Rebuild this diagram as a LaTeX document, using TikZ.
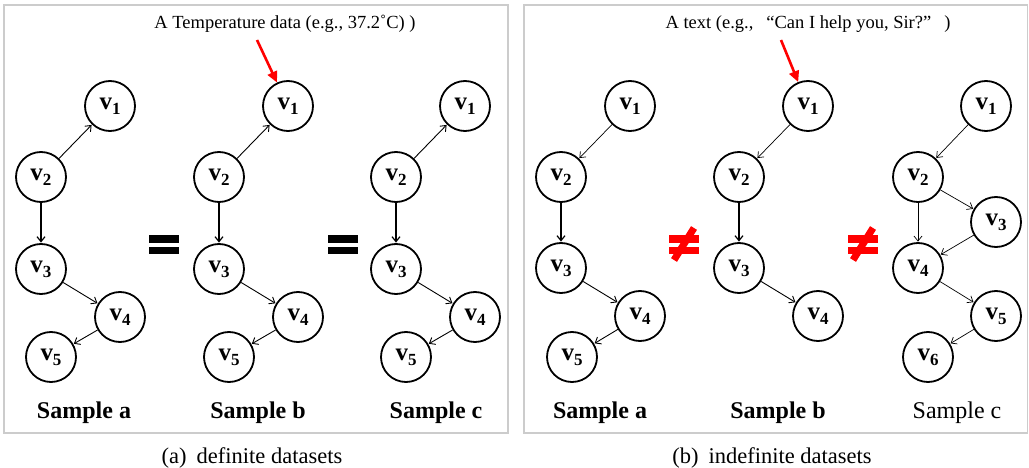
\documentclass[tikz,border=0pt]{standalone}
\usepackage{fontspec}
\setmainfont{Liberation Serif}
\usetikzlibrary{arrows.meta}
\newcommand{\vlab}[1]{{\fontsize{25}{25}\selectfont\bfseries v}\raisebox{-5pt}{\fontsize{17}{17}\selectfont\bfseries #1}}
\begin{document}
\begin{tikzpicture}[x=1pt,y=-1pt,
  vtx/.style={circle, draw, line width=1.8pt, minimum size=50pt, inner sep=0pt},
  edge/.style={-{Straight Barb[length=5pt,width=8pt]}, line width=0.9pt, shorten >=0.5pt},
  redarrow/.style={red, line width=2.6pt, -{Triangle[length=11pt,width=10pt]}},
  panel/.style={draw=black!20, line width=1.3pt},
  samplelbl/.style={font=\fontsize{24}{26}\selectfont\bfseries},
  samplelblr/.style={font=\fontsize{24}{26}\selectfont},
  annot/.style={font=\fontsize{18.5}{20}\selectfont},
  caption/.style={font=\fontsize{22.5}{24}\selectfont},
  eqfill/.style={fill=black},
  neqfill/.style={fill=red}
]
\useasboundingbox (0,0) rectangle (1029,468);
% panels
\draw[panel] (4,5) rectangle (508,433);
\draw[panel] (524,5) rectangle (1027.5,433);

% ---------- left panel ----------
\foreach \s/\dx in {a/0,b/178,c/355}{
  \node[vtx] (L\s1) at (110+\dx,106) {\vlab{1}};
  \node[vtx] (L\s2) at (41+\dx,177) {\vlab{2}};
  \node[vtx] (L\s3) at (41+\dx,269) {\vlab{3}};
  \node[vtx] (L\s4) at (120+\dx,317) {\vlab{4}};
  \node[vtx] (L\s5) at (51+\dx,357) {\vlab{5}};
  \draw[edge] (L\s2) -- (L\s1);
  \draw[edge, line width=1.2pt] (L\s2) -- (L\s3);
  \draw[edge] (L\s3) -- (L\s4);
  \draw[edge] (L\s4) -- (L\s5);
}
\node[samplelbl] (Lla) at (84,413) {Sample a};
\node[samplelbl] (Llb) at (258,413) {Sample b};
\node[samplelbl] (Llc) at (436,413) {Sample c};

% equal signs
\fill[eqfill] (149,235) rectangle (179,243);
\fill[eqfill] (149,247) rectangle (179,254);
\fill[eqfill] (328,235) rectangle (358,243);
\fill[eqfill] (328,247) rectangle (358,254);

\node[annot] (Lann) at (285,24) {A Temperature data (e.g., 37.2˚C) )};
\coordinate (Lstart) at (257,40);
\draw[redarrow] (Lstart) -- (Lb1);

\node[caption] (capa) at (252,458) {(a)\hspace{0.45em}definite datasets};

% ---------- right panel ----------
\foreach \s/\dx in {a/0,b/178}{
  \node[vtx] (R\s1) at (630+\dx,106) {\vlab{1}};
  \node[vtx] (R\s2) at (561+\dx,177) {\vlab{2}};
  \node[vtx] (R\s3) at (561+\dx,268) {\vlab{3}};
  \node[vtx] (R\s4) at (640+\dx,316) {\vlab{4}};
  \draw[edge, line width=0.7pt] (R\s1) -- (R\s2);
  \draw[edge, line width=1.2pt] (R\s2) -- (R\s3);
  \draw[edge] (R\s3) -- (R\s4);
}
\node[vtx] (Ra5) at (572,357) {\vlab{5}};
\draw[edge] (Ra4) -- (Ra5);

\node[vtx] (Rc1) at (986,106) {\vlab{1}};
\node[vtx] (Rc2) at (918,177) {\vlab{2}};
\node[vtx] (Rc3) at (996,222) {\vlab{3}};
\node[vtx] (Rc4) at (918,268) {\vlab{4}};
\node[vtx] (Rc5) at (996,316) {\vlab{5}};
\node[vtx] (Rc6) at (928,357) {\vlab{6}};
\draw[edge, line width=0.7pt] (Rc1) -- (Rc2);
\draw[edge, line width=0.7pt] (Rc2) -- (Rc3);
\draw[edge, line width=0.7pt] (Rc2) -- (Rc4);
\draw[edge, line width=0.7pt] (Rc3) -- (Rc4);
\draw[edge, line width=0.7pt] (Rc4) -- (Rc5);
\draw[edge, line width=0.7pt] (Rc5) -- (Rc6);

\node[samplelbl] (Rla) at (600,413) {Sample a};
\node[samplelbl] (Rlb) at (778,413) {Sample b};
\node[samplelblr] (Rlc) at (957,413) {Sample c};

% not-equal signs
\foreach \dx in {0,179}{
  \fill[neqfill] (669+\dx,235) rectangle (699+\dx,243);
  \fill[neqfill] (669+\dx,247) rectangle (699+\dx,254);
  \draw[red, line width=7pt] (694+\dx,228) -- (674+\dx,260);
}

\node[annot] (Rann) at (808,24) {A text (e.g.,\hspace{0.7em}“Can I help you, Sir?”\hspace{0.7em})};
\coordinate (Rstart) at (781,40);
\draw[redarrow] (Rstart) -- (Rb1);

\node[caption] (capb) at (772,458) {(b)\hspace{0.45em}indefinite datasets};
\end{tikzpicture}
\end{document}
